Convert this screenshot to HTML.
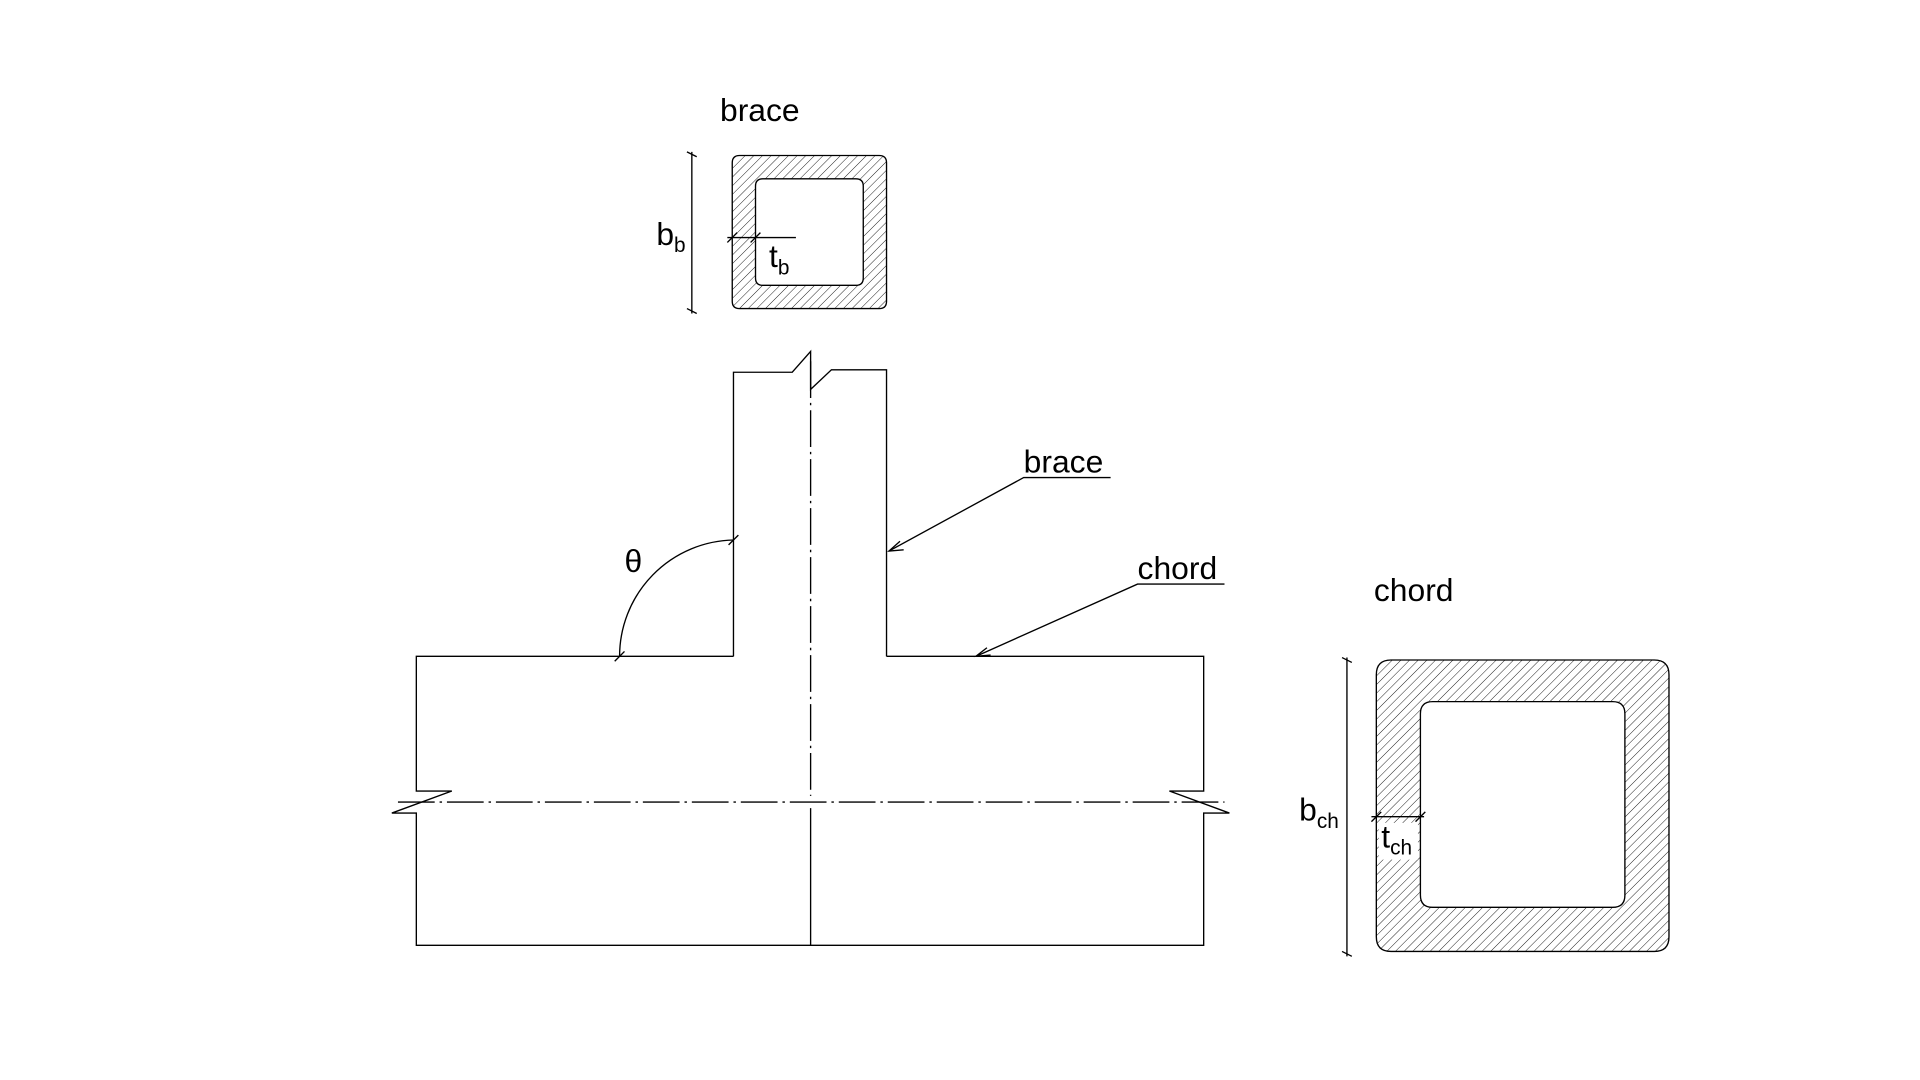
<!DOCTYPE html>
<html><head><meta charset="utf-8"><style>
html,body{margin:0;padding:0;background:#fff;width:1920px;height:1080px;overflow:hidden}
svg{display:block}
text{font-family:"Liberation Sans",Arial,sans-serif;fill:#000}
</style></head><body>
<svg width="1920" height="1080" viewBox="0 0 1568 882" xmlns="http://www.w3.org/2000/svg">
<defs>
<pattern id="h" width="5" height="5" patternUnits="userSpaceOnUse" patternTransform="rotate(45)">
<line x1="0" y1="0" x2="0" y2="5" stroke="#000" stroke-width="0.7"/>
</pattern>
</defs>
<g fill="none" stroke="#000" stroke-width="1.1">
<path fill-rule="evenodd" fill="url(#h)" d="M604,127 H718 Q724,127 724,133 V246 Q724,252 718,252 H604 Q598,252 598,246 V133 Q598,127 604,127 Z M623,146 H699 Q705,146 705,152 V227 Q705,233 699,233 H623 Q617,233 617,227 V152 Q617,146 623,146 Z"/>
<line x1="565" y1="124" x2="565" y2="256"/>
<line x1="561" y1="124" x2="569" y2="128"/><line x1="561" y1="252" x2="569" y2="256"/>
<line x1="594" y1="194" x2="650" y2="194"/>
<line x1="594" y1="198" x2="602" y2="190"/><line x1="613" y1="198" x2="621" y2="190"/>
<polyline points="599,536 599,304 647,304 662,287 662,318 679,302 724,302 724,536"/>
<line x1="662" y1="295" x2="662" y2="650" stroke-dasharray="30,4,2,4"/>
<line x1="662" y1="660" x2="662" y2="772"/>
<polyline points="599,536 340,536 340,646 369,646 320,664 340,664 340,772 983,772 983,664 1004,664 955,646 983,646 983,536 724,536"/>
<line x1="325" y1="655" x2="1000" y2="655" stroke-dasharray="30,4,2,4"/>
<path d="M506,536 A95,95 0 0 1 599,441"/>
<line x1="502" y1="540" x2="510" y2="532"/><line x1="595" y1="445" x2="603" y2="437"/>
<polyline points="907,390 836,390 726,450"/>
<polyline points="738,449 726,450 735,442"/>
<polyline points="1000,477 929,477 797,536"/>
<polyline points="809,535 797,536 806,529"/>
<path fill-rule="evenodd" fill="url(#h)" d="M1136,539 H1351 Q1363,539 1363,551 V765 Q1363,777 1351,777 H1136 Q1124,777 1124,765 V551 Q1124,539 1136,539 Z M1170,573 H1317 Q1327,573 1327,583 V731 Q1327,741 1317,741 H1170 Q1160,741 1160,731 V583 Q1160,573 1170,573 Z"/>
<rect x="1126" y="672" width="32" height="30" fill="#fff" stroke="none"/>
<line x1="1100" y1="537" x2="1100" y2="781"/>
<line x1="1096" y1="537" x2="1104" y2="541"/><line x1="1096" y1="777" x2="1104" y2="781"/>
<line x1="1120" y1="667" x2="1163" y2="667"/>
<line x1="1120" y1="671" x2="1128" y2="663"/><line x1="1156" y1="671" x2="1164" y2="663"/>
</g>
<text x="588" y="99" font-size="26">brace</text>
<text x="536" y="200" font-size="26">b<tspan font-size="17" dy="6">b</tspan></text>
<text x="628" y="218" font-size="26">t<tspan font-size="17" dy="6">b</tspan></text>
<text x="510" y="467" font-size="26">θ</text>
<text x="836" y="386" font-size="26">brace</text>
<text x="929" y="473" font-size="26">chord</text>
<text x="1122" y="491" font-size="26">chord</text>
<text x="1061" y="670" font-size="26">b<tspan font-size="17" dy="6">ch</tspan></text>
<text x="1128" y="692" font-size="26">t<tspan font-size="17" dy="6">ch</tspan></text>
</svg>
</body></html>
